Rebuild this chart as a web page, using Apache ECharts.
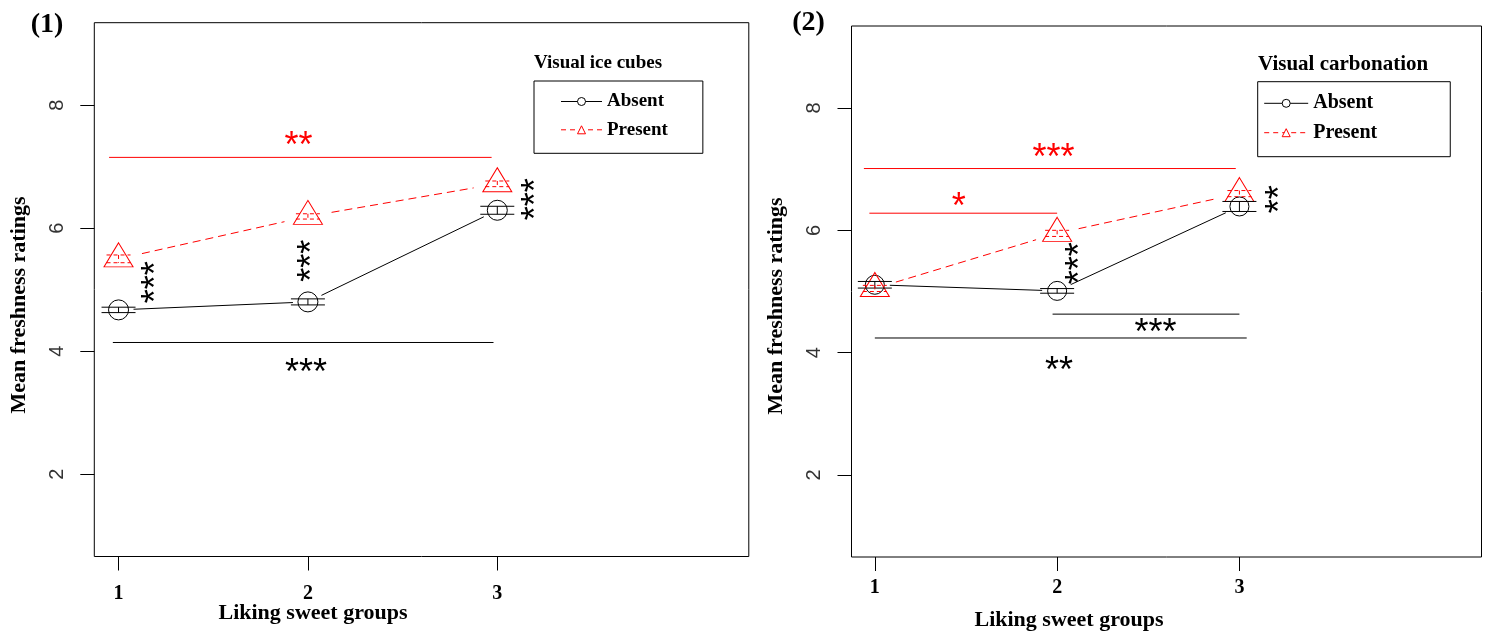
<!DOCTYPE html>
<html><head><meta charset="utf-8">
<script src="https://cdn.jsdelivr.net/npm/echarts@6/dist/echarts.min.js"></script>
<style>html,body{margin:0;padding:0;background:#fff}#c{width:1488px;height:634px}</style>
</head><body><div id="c"></div>
<script>
// ---- data ----
const groups = [1, 2, 3];
const xTickValues = [1, 2, 3];
const yTickValues = [2, 4, 6, 8];
const seriesNames = ['Absent', 'Present'];

// Panel (1): Visual ice cubes
const p1AbsentMean = [4.67, 4.80, 6.29];
const p1AbsentSE = [0.044, 0.049, 0.065];
const p1PresentMean = [5.50, 6.19, 6.72];
const p1PresentSE = [0.063, 0.043, 0.046];
const p1RedBrackets = [[0.95, 2.97, 7.15]];
const p1BlackBrackets = [[0.97, 2.98, 4.14]];
const p1RedStars = [[1.95, 7.46, '**']];
const p1BlackStars = [[1.99, 3.77, '***']];
const p1VerticalStars = [[1.155, 5.12, '***'], [1.98, 5.47, '***'], [3.16, 6.47, '***']];

// Panel (2): Visual carbonation
const p2AbsentMean = [5.11, 5.01, 6.39];
const p2AbsentSE = [0.054, 0.038, 0.082];
const p2PresentMean = [5.05, 5.95, 6.60];
const p2PresentSE = [0.05, 0.05, 0.05];
const p2RedBrackets = [[0.94, 2.98, 7.01], [0.97, 2.00, 6.28]];
const p2BlackBrackets = [[1.975, 3.0, 4.63], [1.0, 3.04, 4.24]];
const p2RedStars = [[1.98, 7.31, '***'], [1.46, 6.51, '*']];
const p2BlackStars = [[2.54, 4.45, '***'], [2.01, 3.83, '**']];
const p2VerticalStars = [[2.08, 5.46, '***'], [3.18, 6.51, '**']];

const texts = {
  panel1: '(1)', panel2: '(2)',
  legend1: 'Visual ice cubes', legend2: 'Visual carbonation',
  xTitle: 'Liking sweet groups', yTitle: 'Mean freshness ratings'
};

// ---- styles ----
const RED = '#ff0000', BLACK = '#000000';
const SERIF = 'Liberation Serif', SANS = 'Liberation Sans';
const DASH = [8, 5];
const STAR_FONT = 36, STAR_SHIFT = 9;

function markerSeries(idx, name, means, isPresent, circleSize) {
  return {
    type: 'line', name: name, xAxisIndex: idx, yAxisIndex: idx,
    data: groups.map((g, i) => [g, means[i]]),
    symbol: isPresent ? 'triangle' : 'circle',
    symbolSize: isPresent ? [29, 24] : circleSize,
    symbolOffset: isPresent ? [0, -4] : [0, 0],
    showSymbol: true, silent: true, z: 5,
    itemStyle: { color: 'rgba(0,0,0,0)', borderColor: isPresent ? RED : BLACK, borderWidth: 1 },
    lineStyle: { opacity: 0, width: 0 }
  };
}

function linkSeries(idx, means, color, dashed, gap) {
  const segs = [];
  for (let i = 0; i < groups.length - 1; i++) segs.push([groups[i], means[i], groups[i + 1], means[i + 1]]);
  return {
    type: 'custom', xAxisIndex: idx, yAxisIndex: idx, silent: true, z: 3,
    data: segs, encode: { x: 0, y: 1 },
    renderItem(params, api) {
      const s = segs[params.dataIndex];
      const a = api.coord([s[0], s[1]]), b = api.coord([s[2], s[3]]);
      const dx = b[0] - a[0], dy = b[1] - a[1], L = Math.sqrt(dx * dx + dy * dy);
      const ux = dx / L, uy = dy / L;
      return { type: 'line', shape: { x1: a[0] + ux * gap, y1: a[1] + uy * gap, x2: b[0] - ux * gap, y2: b[1] - uy * gap },
        style: { stroke: color, lineWidth: 1, lineDash: dashed ? DASH : null } };
    }
  };
}

function errSeries(idx, means, se, color, dashed, half) {
  return {
    type: 'custom', xAxisIndex: idx, yAxisIndex: idx, silent: true, z: 6,
    data: groups.map((g, i) => [g, means[i]]), encode: { x: 0, y: 1 },
    renderItem(params, api) {
      const i = params.dataIndex;
      const t = api.coord([groups[i], means[i] + se[i]]), b = api.coord([groups[i], means[i] - se[i]]);
      const st = { stroke: color, lineWidth: 1, lineDash: dashed ? [4, 3] : null };
      return { type: 'group', children: [
        { type: 'line', shape: { x1: t[0], y1: t[1], x2: b[0], y2: b[1] }, style: st },
        { type: 'line', shape: { x1: t[0] - half, y1: t[1], x2: t[0] + half, y2: t[1] }, style: st },
        { type: 'line', shape: { x1: b[0] - half, y1: b[1], x2: b[0] + half, y2: b[1] }, style: st }
      ] };
    }
  };
}

function bracketSeries(idx, list, color) {
  return {
    type: 'custom', xAxisIndex: idx, yAxisIndex: idx, silent: true, z: 3,
    data: list.map(d => [d[0], d[2]]), encode: { x: 0, y: 1 },
    renderItem(params, api) {
      const d = list[params.dataIndex];
      const a = api.coord([d[0], d[2]]), b = api.coord([d[1], d[2]]);
      return { type: 'line', shape: { x1: a[0], y1: a[1], x2: b[0], y2: b[1] }, style: { stroke: color, lineWidth: 1 } };
    }
  };
}

function starSeries(idx, list, color, vertical) {
  return {
    type: 'custom', xAxisIndex: idx, yAxisIndex: idx, silent: true, z: 7,
    data: list.map(d => [d[0], d[1]]), encode: { x: 0, y: 1 },
    renderItem(params, api) {
      const d = list[params.dataIndex];
      const p = api.coord([d[0], d[1]]);
      return { type: 'text', x: p[0] + (vertical ? STAR_SHIFT : 0), y: p[1] + (vertical ? 0 : STAR_SHIFT),
        rotation: vertical ? Math.PI / 2 : 0,
        style: { text: d[2], fill: color, fontFamily: SANS, fontSize: STAR_FONT, align: 'center', verticalAlign: 'middle' } };
    }
  };
}

const grids = [
  { left: 94.3, top: 22.7, width: 654.5, height: 533.8 },
  { left: 851.5, top: 26, width: 630, height: 531 }
].map(g => Object.assign(g, { show: true, borderColor: BLACK, borderWidth: 1, backgroundColor: 'transparent', containLabel: false, outerBoundsMode: 'none' }));

const xLabelMargins = [27, 20.5];
const xAxes = [0, 1].map(i => ({
  type: 'value', gridIndex: i, min: 0.872, max: 4.328,
  axisLine: { show: false }, splitLine: { show: false },
  axisTick: { show: true, length: 14, inside: false, customValues: xTickValues, lineStyle: { color: BLACK, width: 1 } },
  axisLabel: { show: true, customValues: xTickValues, margin: xLabelMargins[i], fontFamily: SERIF, fontWeight: 'bold', fontSize: 20, color: BLACK }
}));
const yAxes = [0, 1].map(i => ({
  type: 'value', gridIndex: i, min: 0.66, max: 9.34,
  axisLine: { show: false }, splitLine: { show: false },
  axisTick: { show: true, length: 14, inside: false, customValues: yTickValues, lineStyle: { color: BLACK, width: 1 } },
  axisLabel: { show: true, customValues: yTickValues, rotate: 90, margin: 27, fontFamily: SANS, fontSize: 20, color: '#333' }
}));

function legendData() {
  return [
    { name: seriesNames[0], itemStyle: { color: '#ffffff', borderColor: BLACK, borderWidth: 1 }, lineStyle: { color: BLACK, width: 1, type: 'solid', opacity: 1 } },
    { name: seriesNames[1], itemStyle: { color: '#ffffff', borderColor: RED, borderWidth: 1 }, lineStyle: { color: RED, width: 1, type: [5, 4], opacity: 1 } }
  ];
}
const legends = [
  { left: 534, top: 81, orient: 'vertical', itemWidth: 41, itemHeight: 10, itemGap: 9.3,
    padding: [11, 35, 14, 26.5], borderColor: BLACK, borderWidth: 1, data: legendData(),
    textStyle: { fontFamily: SERIF, fontWeight: 'bold', fontSize: 19, color: BLACK }, selectedMode: false },
  { left: 1257.7, top: 81.7, orient: 'vertical', itemWidth: 44, itemHeight: 10, itemGap: 9.4,
    padding: [11.6, 73, 14, 6], borderColor: BLACK, borderWidth: 1, data: legendData(),
    textStyle: { fontFamily: SERIF, fontWeight: 'bold', fontSize: 20, color: BLACK }, selectedMode: false }
];

function txt(x, y, text, size, opts, align) {
  return Object.assign({ type: 'text', x: x, y: y, silent: true,
    style: { text: text, fill: BLACK, fontFamily: SERIF, fontWeight: 'bold', fontSize: size, align: align || 'center', verticalAlign: 'middle' } }, opts || {});
}
const graphics = [
  txt(47, 25, texts.panel1, 28),
  txt(808.5, 23, texts.panel2, 28),
  txt(534, 62.7, texts.legend1, 19, null, 'left'),
  txt(1258, 65, texts.legend2, 21, null, 'left'),
  txt(313, 613, texts.xTitle, 22),
  txt(1069, 620.5, texts.xTitle, 22),
  txt(19, 305, texts.yTitle, 22, { rotation: Math.PI / 2 }),
  txt(776, 306, texts.yTitle, 22, { rotation: Math.PI / 2 })
];

const series = [
  // panel 1
  linkSeries(0, p1AbsentMean, BLACK, false, 15),
  linkSeries(0, p1PresentMean, RED, true, 24),
  markerSeries(0, seriesNames[0], p1AbsentMean, false, 20),
  markerSeries(0, seriesNames[1], p1PresentMean, true, 20),
  errSeries(0, p1AbsentMean, p1AbsentSE, BLACK, false, 17),
  errSeries(0, p1PresentMean, p1PresentSE, RED, true, 12),
  bracketSeries(0, p1RedBrackets, RED),
  bracketSeries(0, p1BlackBrackets, BLACK),
  starSeries(0, p1RedStars, RED, false),
  starSeries(0, p1BlackStars, BLACK, false),
  starSeries(0, p1VerticalStars, BLACK, true),
  // panel 2
  linkSeries(1, p2AbsentMean, BLACK, false, 15),
  linkSeries(1, p2PresentMean, RED, true, 22),
  markerSeries(1, seriesNames[0], p2AbsentMean, false, 19),
  markerSeries(1, seriesNames[1], p2PresentMean, true, 19),
  errSeries(1, p2AbsentMean, p2AbsentSE, BLACK, false, 17),
  errSeries(1, p2PresentMean, p2PresentSE, RED, true, 12),
  bracketSeries(1, p2RedBrackets, RED),
  bracketSeries(1, p2BlackBrackets, BLACK),
  starSeries(1, p2RedStars, RED, false),
  starSeries(1, p2BlackStars, BLACK, false),
  starSeries(1, p2VerticalStars, BLACK, true)
];

const chart = echarts.init(document.getElementById('c'), null, { renderer: 'canvas' });
chart.setOption({
  animation: false,
  backgroundColor: '#ffffff',
  grid: grids, xAxis: xAxes, yAxis: yAxes,
  legend: legends, graphic: graphics, series: series,
  tooltip: { show: false }
});
</script></body></html>
